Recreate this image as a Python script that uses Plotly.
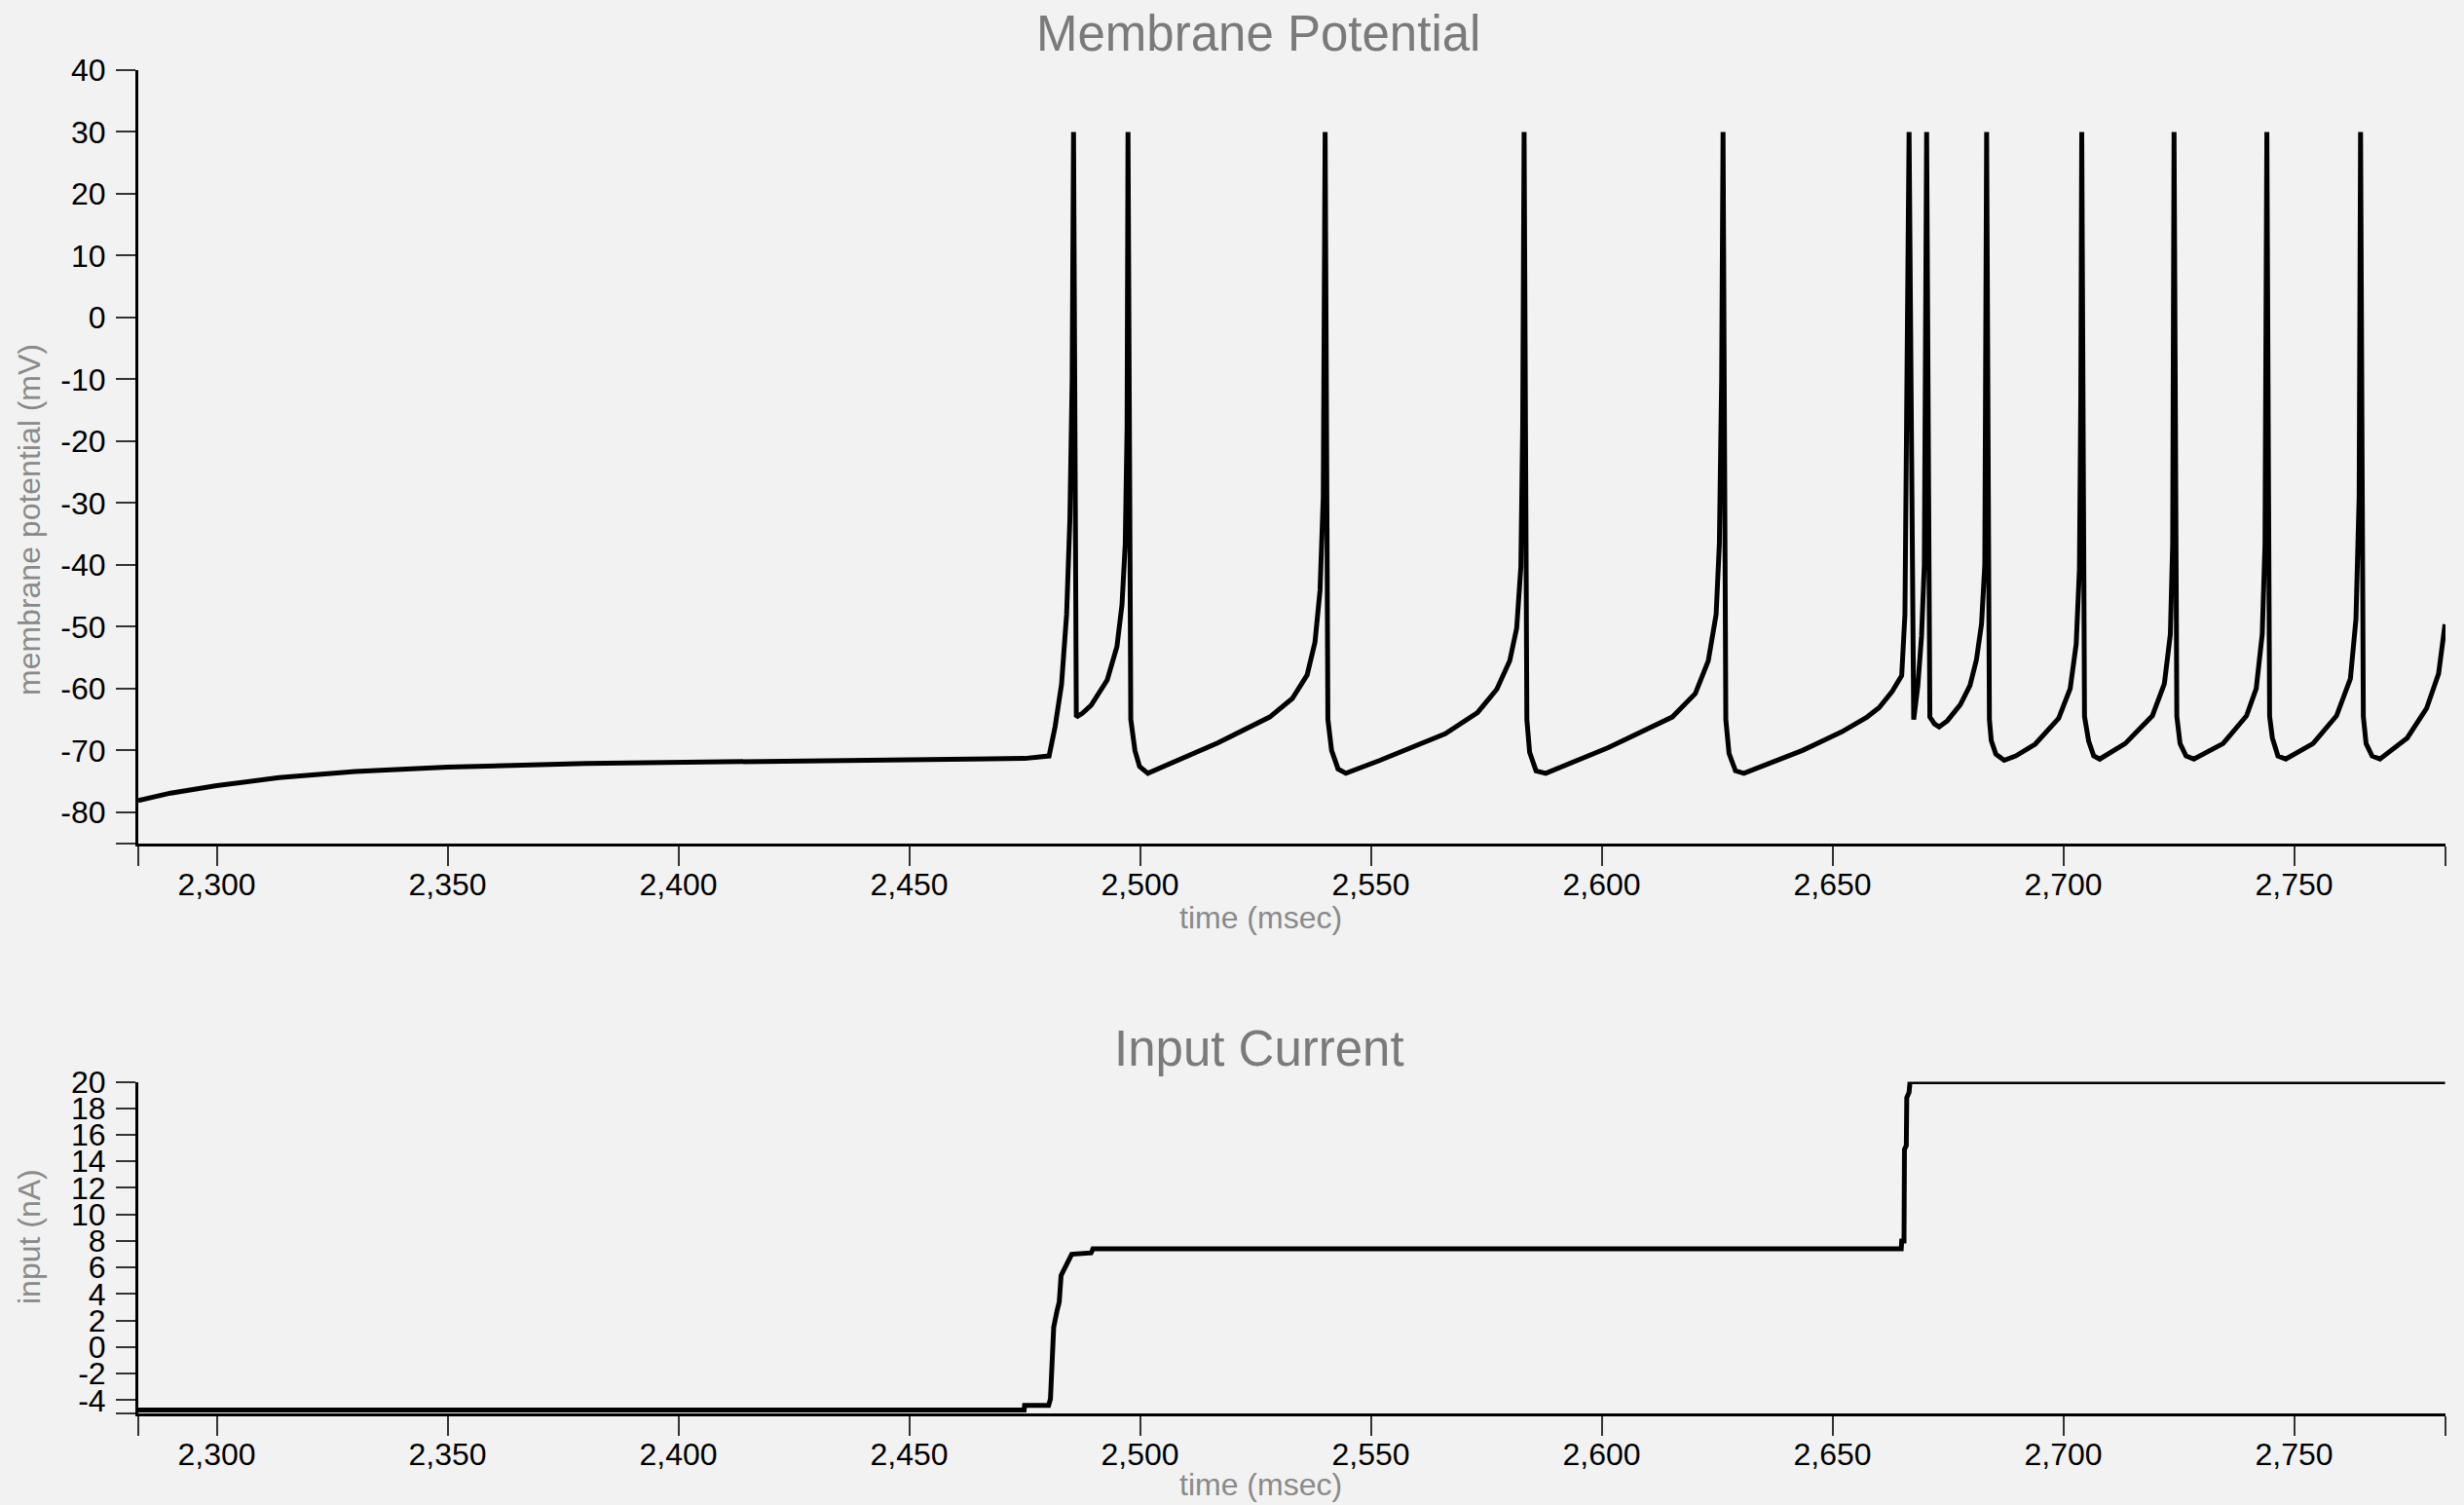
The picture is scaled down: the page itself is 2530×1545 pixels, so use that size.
import plotly.graph_objects as go

# ---------------- data ----------------
mp_time = [
    2283.0, 2290.0, 2300.0, 2313.5, 2330.0, 2350.0, 2380.0, 2420.0, 2460.0, 2475.0,
    2480.3, 2481.6, 2483.0, 2484.1, 2484.8, 2485.3,
    2485.6, 2486.2, 2487.5, 2489.4, 2492.9, 2495.0, 2496.1, 2496.8, 2497.2,
    2497.4, 2498.0, 2498.5, 2498.9, 2499.9, 2501.7, 2516.8, 2528.1, 2533.0, 2536.2, 2537.9, 2539.0, 2539.7,
    2540.1, 2540.7, 2541.1, 2541.5, 2542.9, 2544.6, 2552.0, 2559.0, 2566.1, 2573.1, 2577.3, 2580.1, 2581.6, 2582.5, 2582.9,
    2583.2, 2583.8, 2584.4, 2585.8, 2587.9, 2601.3, 2615.3, 2620.3, 2623.1, 2624.8, 2625.5, 2626.0,
    2626.3, 2626.9, 2627.6, 2629.0, 2630.8, 2643.5, 2652.0, 2657.5, 2660.1, 2662.9, 2665.0, 2665.7,
    2666.6, 2667.6, 2668.5, 2669.3, 2669.9, 2670.2,
    2670.4, 2671.1, 2672.1, 2673.1, 2674.9, 2677.7, 2679.8, 2681.2, 2682.3, 2683.0,
    2683.4, 2684.0, 2684.4, 2685.4, 2687.2, 2689.7, 2693.9, 2699.0, 2701.5, 2702.8, 2703.5, 2703.8,
    2704.0, 2704.6, 2705.5, 2706.6, 2707.9, 2713.4, 2719.3, 2721.9, 2723.2, 2723.7,
    2724.0, 2724.6, 2725.3, 2726.6, 2728.3, 2734.6, 2739.7, 2741.8, 2743.1, 2743.7,
    2744.1, 2744.7, 2745.3, 2746.5, 2748.2, 2754.1, 2759.2, 2762.2, 2763.4, 2764.1,
    2764.4, 2765.0, 2765.6, 2766.9, 2768.6, 2774.5, 2778.7, 2781.3, 2782.5, 2782.7,
]
mp_value = [
    -78.1, -76.9, -75.7, -74.4, -73.4, -72.7, -72.1, -71.8, -71.6, -71.3,
    -70.9, -66.2, -59.3, -48.0, -32.8, -10.0,
    30.0, -64.6, -64.0, -62.7, -58.6, -53.2, -46.4, -36.6, -17.6,
    30.0, -65.0, -67.5, -70.0, -72.6, -73.7, -68.8, -64.6, -61.6, -57.8, -52.5, -44.1, -29.0,
    30.0, -65.0, -67.5, -70.0, -73.0, -73.7, -71.6, -69.5, -67.3, -63.9, -60.1, -55.5, -50.2, -40.3, -17.6,
    30.0, -65.0, -70.3, -73.3, -73.7, -69.6, -64.6, -60.8, -55.5, -48.0, -36.6, -10.0,
    30.0, -65.0, -70.5, -73.3, -73.7, -70.0, -67.0, -64.6, -63.1, -60.5, -57.9, -48.0,
    30.0, -65.0, -59.5, -51.5, -40.0, -10.0,
    30.0, -64.6, -65.7, -66.2, -65.2, -62.6, -59.5, -55.3, -49.5, -40.0,
    30.0, -65.0, -68.4, -70.6, -71.6, -70.9, -69.0, -64.8, -60.0, -52.8, -40.7, -12.6,
    30.0, -64.5, -68.5, -70.9, -71.4, -68.9, -64.4, -59.2, -51.2, -36.7,
    30.0, -64.5, -68.9, -70.9, -71.4, -68.9, -64.4, -60.0, -51.2, -36.7,
    30.0, -64.5, -68.0, -70.9, -71.4, -68.9, -64.4, -58.4, -48.8, -29.0,
    30.0, -64.5, -68.9, -70.9, -71.4, -68.0, -63.2, -57.6, -50.4, -49.6,
]

in_time = [2283.0, 2474.9, 2475.0, 2480.2, 2480.6, 2480.9, 2481.3, 2482.0, 2482.5, 2482.9,
           2483.8, 2485.2, 2489.4, 2489.8, 2664.9, 2665.0, 2665.5, 2665.6, 2666.0, 2666.1,
           2666.6, 2666.8, 2782.7]
in_value = [-4.75, -4.75, -4.4, -4.4, -3.9, -1.2, 1.5, 2.7, 3.4, 5.4,
            6.0, 7.0, 7.1, 7.4, 7.4, 8.0, 8.0, 14.9, 15.2, 18.8,
            19.2, 20.0, 20.0]

x_range = [2283.0, 2782.8]
x_tick_vals = [2300, 2350, 2400, 2450, 2500, 2550, 2600, 2650, 2700, 2750]
x_tick_text = ["2,300", "2,350", "2,400", "2,450", "2,500", "2,550", "2,600", "2,650", "2,700", "2,750"]

mp_range = [-85, 40]
mp_tick_vals = [-80, -70, -60, -50, -40, -30, -20, -10, 0, 10, 20, 30, 40]
mp_tick_text = ["-80", "-70", "-60", "-50", "-40", "-30", "-20", "-10", "0", "10", "20", "30", "40"]

in_range = [-5, 20]
in_tick_vals = [-4, -2, 0, 2, 4, 6, 8, 10, 12, 14, 16, 18, 20]
in_tick_text = ["-4", "-2", "0", "2", "4", "6", "8", "10", "12", "14", "16", "18", "20"]

titles = ["Membrane Potential", "Input Current"]
y_titles = ["membrane potential (mV)", "input (nA)"]
x_title = "time (msec)"

# ---------------- layout geometry ----------------
W, H = 2530, 1545
L, R, T, B = 142, 19, 72, 94
PW, PH = W - L - R, H - T - B


def fx(px):
    return (px - L) / PW


def fy(py):
    return (H - B - py) / PH


FONT = "Liberation Sans, Arial, Helvetica, sans-serif"
BG = "#f2f2f2"

fig = go.Figure()
fig.add_trace(go.Scatter(x=mp_time, y=mp_value, mode="lines",
                         line=dict(color="black", width=5), xaxis="x", yaxis="y",
                         showlegend=False, hoverinfo="skip"))
fig.add_trace(go.Scatter(x=in_time, y=in_value, mode="lines",
                         line=dict(color="black", width=5), xaxis="x2", yaxis="y2",
                         showlegend=False, hoverinfo="skip"))


def axis_common():
    return dict(showgrid=False, zeroline=False, showline=True, linecolor="black",
                linewidth=3, ticks="outside", ticklen=20, tickwidth=2, tickcolor="#333",
                tickfont=dict(family=FONT, size=32, color="black"))


xv = [x_range[0]] + x_tick_vals + [x_range[1]]
xt = [""] + x_tick_text + [""]

fig.update_layout(
    width=W, height=H,
    margin=dict(l=L, r=R, t=T, b=B, pad=0),
    paper_bgcolor=BG, plot_bgcolor=BG,
    xaxis=dict(**axis_common(), domain=[0, 1], range=x_range, anchor="y",
               tickmode="array", tickvals=xv, ticktext=xt, ticklabelstandoff=-8),
    yaxis=dict(**axis_common(), domain=[fy(865.6), 1.0], range=mp_range, anchor="x",
               tickmode="array", tickvals=[mp_range[0]] + mp_tick_vals,
               ticktext=[""] + mp_tick_text, ticklabelstandoff=4),
    xaxis2=dict(**axis_common(), domain=[0, 1], range=x_range, anchor="y2",
                tickmode="array", tickvals=xv, ticktext=xt, ticklabelstandoff=-8),
    yaxis2=dict(**axis_common(), domain=[0, fy(1110.5)], range=in_range, anchor="x2",
                tickmode="array", tickvals=[in_range[0]] + in_tick_vals,
                ticktext=[""] + in_tick_text, ticklabelstandoff=4),
)

ann = []
ann.append(dict(text=titles[0], x=fx(1292), y=fy(35), xref="paper", yref="paper",
                showarrow=False, xanchor="center", yanchor="middle",
                font=dict(family=FONT, size=51, color="#7a7a7a")))
ann.append(dict(text=titles[1], x=fx(1293), y=fy(1076), xref="paper", yref="paper",
                showarrow=False, xanchor="center", yanchor="middle",
                font=dict(family=FONT, size=51, color="#7a7a7a")))
ann.append(dict(text=x_title, x=fx(1294), y=fy(942), xref="paper", yref="paper",
                showarrow=False, xanchor="center", yanchor="middle",
                font=dict(family=FONT, size=32, color="#8a8a8a")))
ann.append(dict(text=x_title, x=fx(1294), y=fy(1524), xref="paper", yref="paper",
                showarrow=False, xanchor="center", yanchor="middle",
                font=dict(family=FONT, size=32, color="#8a8a8a")))
ann.append(dict(text=y_titles[0], x=fx(30), y=fy(534), xref="paper", yref="paper",
                showarrow=False, xanchor="center", yanchor="middle", textangle=-90,
                font=dict(family=FONT, size=32, color="#8a8a8a")))
ann.append(dict(text=y_titles[1], x=fx(30), y=fy(1270), xref="paper", yref="paper",
                showarrow=False, xanchor="center", yanchor="middle", textangle=-90,
                font=dict(family=FONT, size=32, color="#8a8a8a")))
fig.update_layout(annotations=ann)

fig.write_html(
    "out.html",
    config={"displayModeBar": False},
    post_script="document.body.style.margin='0';document.body.style.background='#f2f2f2';",
)
